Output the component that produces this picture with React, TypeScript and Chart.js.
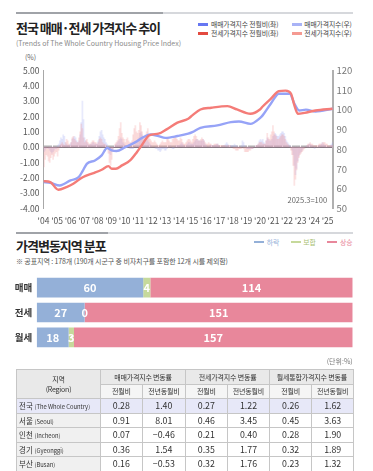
import React, { useEffect, useRef } from 'react';
import { Chart, registerables } from 'chart.js';
Chart.register(...registerables);

const FONT = '"Noto Sans CJK KR", "Noto Sans", sans-serif';

// ---------- top chart data ----------
// monthly change (%) Jan 2004 .. May 2025
const saleMoM = [
  -0.3, -0.2, -0.1, 0.0, -0.1, -0.2, -0.3, -0.4, -0.3, -0.2, -0.1, -0.1,
  0.1, 0.2, 0.4, 0.6, 0.5, 0.8, 0.7, 0.3, 0.2, 0.1, 0.1, 0.2,
  0.3, 0.5, 0.6, 0.7, 0.6, 0.4, 0.3, 0.4, 0.8, 1.6, 3.0, 1.8,
  0.6, 0.4, 0.3, 0.2, 0.1, 0.2, 0.2, 0.3, 0.3, 0.2, 0.2, 0.2,
  0.4, 0.7, 1.0, 1.1, 0.8, 0.6, 0.5, 0.3, 0.2, -0.1, -0.4, -0.5,
  -0.3, -0.1, 0.0, 0.1, 0.2, 0.3, 0.4, 0.5, 0.6, 0.5, 0.3, 0.2,
  0.1, 0.1, 0.1, 0.0, -0.1, -0.1, -0.1, -0.1, 0.0, 0.2, 0.4, 0.5,
  0.6, 0.9, 1.0, 0.8, 0.6, 0.4, 0.4, 0.5, 0.4, 0.3, 0.2, 0.1,
  0.0, 0.0, 0.0, -0.1, -0.1, -0.2, -0.2, -0.3, -0.2, -0.1, -0.1, -0.2,
  -0.2, -0.1, 0.0, 0.0, 0.1, 0.0, -0.1, -0.1, 0.0, 0.1, 0.1, 0.1,
  0.1, 0.2, 0.3, 0.2, 0.1, 0.0, 0.1, 0.2, 0.3, 0.3, 0.2, 0.2,
  0.2, 0.3, 0.4, 0.5, 0.5, 0.4, 0.4, 0.4, 0.4, 0.5, 0.4, 0.2,
  0.1, 0.0, 0.0, 0.1, 0.1, 0.1, 0.1, 0.1, 0.1, 0.2, 0.2, 0.1,
  0.0, 0.0, 0.0, 0.1, 0.1, 0.2, 0.3, 0.2, 0.1, 0.1, 0.1, 0.1,
  0.1, 0.2, 0.1, 0.1, 0.0, 0.0, 0.0, 0.1, 0.4, 0.3, 0.1, 0.0,
  -0.1, -0.1, -0.1, -0.1, -0.1, -0.1, 0.0, 0.0, 0.1, 0.1, 0.2, 0.4,
  0.5, 0.4, 0.5, 0.3, 0.2, 0.4, 0.6, 0.5, 0.4, 0.4, 0.5, 0.7,
  0.8, 0.9, 0.8, 0.7, 0.7, 0.8, 0.9, 1.0, 1.0, 0.9, 0.7, 0.4,
  0.3, 0.2, 0.1, 0.0, -0.2, -0.5, -1.2, -1.8, -1.4, -0.9, -0.6, -0.4,
  -0.3, -0.2, -0.1, 0.0, 0.0, 0.1, 0.1, 0.2, 0.2, 0.1, 0.1, 0.0,
  -0.1, 0.0, 0.0, 0.0, 0.1, 0.1, 0.2, 0.3, 0.2, 0.1, 0.1, 0.0,
  0.0, 0.0, 0.1, 0.2, 0.3,
];
const jeonseMoM = [
  -1.3, -0.8, -0.5, -0.6, -0.9, -1.0, -0.7, -0.5, -0.8, -0.6, -0.4, -0.3,
  -0.6, -0.2, 0.1, 0.2, 0.3, 0.2, 0.1, 0.3, 0.5, 0.4, 0.2, 0.1,
  0.3, 0.6, 0.7, 0.5, 0.4, 0.3, 0.3, 0.6, 1.0, 1.5, 1.2, 0.6,
  0.3, 0.4, 0.5, 0.3, 0.2, 0.2, 0.3, 0.4, 0.4, 0.3, 0.3, 0.2,
  0.3, 0.5, 0.6, 0.5, 0.3, 0.2, 0.2, 0.1, 0.0, -0.4, -1.0, -1.2,
  -0.8, -0.3, 0.0, 0.2, 0.3, 0.4, 0.7, 1.2, 1.6, 0.9, 0.6, 0.5,
  0.3, 0.5, 0.6, 0.4, 0.3, 0.3, 0.4, 0.8, 1.2, 1.4, 1.0, 0.9,
  1.1, 1.6, 1.4, 1.0, 0.7, 0.6, 0.8, 1.0, 1.2, 0.8, 0.5, 0.4,
  0.3, 0.3, 0.4, 0.3, 0.2, 0.1, 0.1, 0.2, 0.3, 0.4, 0.3, 0.3,
  0.3, 0.5, 0.6, 0.4, 0.3, 0.3, 0.5, 0.6, 0.7, 0.6, 0.5, 0.4,
  0.4, 0.6, 0.5, 0.3, 0.2, 0.2, 0.3, 0.4, 0.5, 0.5, 0.4, 0.3,
  0.5, 0.7, 0.8, 0.7, 0.5, 0.4, 0.4, 0.5, 0.6, 0.5, 0.4, 0.3,
  0.2, 0.2, 0.3, 0.2, 0.2, 0.1, 0.1, 0.2, 0.2, 0.2, 0.2, 0.1,
  0.1, 0.1, 0.1, 0.1, 0.1, 0.1, 0.0, 0.1, 0.1, 0.1, 0.0, 0.0,
  -0.1, -0.1, -0.2, -0.2, -0.2, -0.1, -0.1, -0.1, 0.0, -0.1, -0.3, -0.3,
  -0.3, -0.3, -0.2, -0.2, -0.1, -0.1, 0.0, 0.0, 0.1, 0.1, 0.2, 0.3,
  0.3, 0.3, 0.2, 0.2, 0.2, 0.4, 0.9, 0.6, 0.5, 0.8, 1.0, 1.4,
  1.0, 0.8, 0.7, 0.5, 0.5, 0.6, 0.7, 0.8, 0.8, 0.7, 0.5, 0.3,
  0.2, 0.1, 0.0, -0.2, -0.5, -1.2, -2.5, -2.1, -1.5, -1.0, -0.7, -0.5,
  -0.4, -0.3, -0.2, -0.1, 0.0, 0.1, 0.2, 0.2, 0.3, 0.2, 0.2, 0.1,
  0.1, 0.1, 0.1, 0.1, 0.2, 0.2, 0.2, 0.3, 0.3, 0.3, 0.2, 0.2,
  0.1, 0.1, 0.1, 0.1, 0.1,
];
// index (2025.3 = 100), [year, value]
const saleIndex: [number, number][] = [
  [2004.0, 63.3], [2004.5, 63.0], [2005.2, 61.6], [2006.0, 64.2], [2006.6, 65.8],
  [2006.9, 69.0], [2007.2, 72.6], [2007.8, 74.3], [2008.3, 76.9], [2008.7, 80.6],
  [2009.05, 79.4], [2009.4, 79.1], [2010.05, 81.1], [2010.8, 83.6], [2011.4, 86.2],
  [2011.9, 87.5], [2012.5, 86.7], [2013.0, 85.8], [2013.9, 86.7], [2014.7, 87.9],
  [2015.0, 88.7], [2015.6, 90.9], [2016.85, 92.1], [2017.85, 93.8], [2018.45, 94.1],
  [2019.3, 92.9], [2020.0, 95.8], [2020.2, 97.2], [2020.8, 103.1], [2021.4, 108.2],
  [2022.2, 108.2], [2022.55, 103.1], [2022.9, 99.7], [2023.4, 100.1], [2024.1, 99.2],
  [2025.37, 100.6],
];
const jeonseIndex: [number, number][] = [
  [2004.0, 63.8], [2004.5, 63.3], [2005.1, 59.4], [2005.7, 60.8], [2006.2, 62.5],
  [2006.9, 65.8], [2007.7, 67.9], [2008.3, 69.6], [2008.8, 71.4], [2009.05, 70.1],
  [2009.35, 70.1], [2009.8, 71.8], [2010.4, 74.3], [2010.9, 78.5], [2011.3, 82.4],
  [2011.8, 87.0], [2012.5, 87.9], [2013.1, 90.1], [2013.9, 93.5], [2014.7, 95.5],
  [2015.0, 97.2], [2015.6, 100.2], [2016.4, 101.1], [2017.6, 101.9], [2018.3, 100.2],
  [2019.3, 98.0], [2020.0, 100.2], [2020.2, 101.7], [2020.8, 105.6], [2021.4, 109.5],
  [2021.9, 109.8], [2022.3, 108.2], [2022.55, 102.2], [2022.8, 98.0], [2023.3, 98.5],
  [2024.1, 99.7], [2025.37, 100.6],
];
const startYear = 2004;
const endYear = 2025.4;

// ---------- distribution chart data ----------
const distCategories = ['매매', '전세', '월세'];
const distFall = [60, 27, 18];
const distFlat = [4, 0, 3];
const distRise = [114, 151, 157];

// ---------- table data ----------
const regionsKo = ['전국', '서울', '인천', '경기', '부산'];
const regionsEn = ['The Whole Country', 'Seoul', 'Incheon', 'Gyeonggi', 'Busan'];
const saleMoMTbl = [0.28, 0.91, 0.07, 0.36, 0.16];
const saleYoYTbl = [1.4, 8.01, -0.46, 1.54, -0.53];
const jeonseMoMTbl = [0.27, 0.46, 0.21, 0.35, 0.32];
const jeonseYoYTbl = [1.22, 3.45, 0.4, 1.77, 1.76];
const rentMoMTbl = [0.26, 0.45, 0.28, 0.32, 0.23];
const rentYoYTbl = [1.62, 3.63, 1.9, 1.89, 1.32];

const C_SALE_BAR = 'rgba(165,172,242,0.26)';
const C_JEON_BAR = 'rgba(245,150,150,0.26)';
const C_SALE_LINE = '#96a3f7';
const C_JEON_LINE = '#f47c78';
const C_FALL = '#94b0d8';
const C_FLAT = '#c6d99b';
const C_RISE = '#e8879b';

const fmt = (v: number) => (v < 0 ? '−' + Math.abs(v).toFixed(2) : v.toFixed(2));

function T(props: any) {
  const { x, y, s, c = '#333', w = 400, ls = 0, right, children } = props;
  const style: any = {
    position: 'absolute',
    top: y - s * 0.6,
    fontSize: s,
    lineHeight: `${s * 1.2}px`,
    color: c,
    fontWeight: w,
    letterSpacing: ls,
    whiteSpace: 'nowrap',
    fontFamily: FONT,
  };
  if (right !== undefined) style.right = 373 - right;
  else style.left = x;
  return <div style={style}>{children}</div>;
}

function Swatch({ x, y, w = 10, h = 2.6, c }: any) {
  return <div style={{ position: 'absolute', left: x, top: y - h / 2, width: w, height: h, background: c }} />;
}

function Rule({ y, dark }: any) {
  return (
    <>
      <div style={{ position: 'absolute', left: 16, top: y - 1, width: 337, height: 2, background: '#d6d8dc' }} />
      <div style={{ position: 'absolute', left: 16, top: y - 1, width: dark - 16, height: 2, background: '#a0a3a8' }} />
    </>
  );
}

function TrendChart() {
  const ref = useRef<HTMLCanvasElement>(null);
  useEffect(() => {
    const bx = (i: number) => startYear + (i + 0.5) / 12;
    const chart = new Chart(ref.current!, {
      type: 'bar',
      data: {
        datasets: [
          {
            type: 'line',
            label: '전세가격지수(우)',
            data: jeonseIndex.map(([x, y]) => ({ x, y })),
            xAxisID: 'x',
            yAxisID: 'yR',
            borderColor: C_JEON_LINE,
            borderWidth: 2.4,
            pointRadius: 0,
            cubicInterpolationMode: 'monotone',
            order: 0,
          } as any,
          {
            type: 'line',
            label: '매매가격지수(우)',
            data: saleIndex.map(([x, y]) => ({ x, y })),
            xAxisID: 'x',
            yAxisID: 'yR',
            borderColor: C_SALE_LINE,
            borderWidth: 2.4,
            pointRadius: 0,
            cubicInterpolationMode: 'monotone',
            order: 1,
          } as any,
          {
            type: 'bar',
            label: '전세가격지수 전월비(좌)',
            data: jeonseMoM.map((v, i) => ({ x: bx(i), y: v })),
            xAxisID: 'x',
            yAxisID: 'y',
            backgroundColor: C_JEON_BAR,
            barThickness: 1.1,
            grouped: false,
            order: 2,
          } as any,
          {
            type: 'bar',
            label: '매매가격지수 전월비(좌)',
            data: saleMoM.map((v, i) => ({ x: bx(i), y: v })),
            xAxisID: 'x',
            yAxisID: 'y',
            backgroundColor: C_SALE_BAR,
            barThickness: 1.1,
            grouped: false,
            order: 3,
          } as any,
        ],
      },
      options: {
        responsive: false,
        animation: false,
        maintainAspectRatio: false,
        layout: { padding: { top: 15.5, left: 0, right: 0, bottom: 0 } },
        plugins: { legend: { display: false }, tooltip: { enabled: false } },
        scales: {
          x: {
            type: 'linear',
            min: startYear,
            max: endYear,
            position: 'bottom',
            offset: false,
            grid: { display: false, drawTicks: false },
            border: { display: false },
            ticks: {
              stepSize: 1,
              includeBounds: false,
              autoSkip: false,
              maxRotation: 0,
              color: '#555',
              font: { size: 8.5, family: FONT },
              padding: 7,
              callback: (v: any) => (Number.isInteger(v) ? "'" + String(v).slice(2) : ''),
            },
            afterFit: (s: any) => { s.height = 21.7; },
          },
          x0: {
            type: 'linear',
            min: startYear,
            max: endYear,
            position: { y: 0 } as any,
            offset: false,
            ticks: { display: false, stepSize: 1 / 12, includeBounds: false, autoSkip: false },
            grid: { display: true, drawOnChartArea: false, drawTicks: true, tickLength: -2.5, color: '#7a7a7a', lineWidth: 0.6 },
            border: { display: true, color: '#666', width: 1 },
          },
          y: {
            type: 'linear',
            position: 'left',
            min: -4,
            max: 5,
            ticks: {
              stepSize: 1,
              color: '#555',
              font: { size: 8.5, family: FONT },
              padding: 4,
              callback: (v: any) => Number(v).toFixed(2),
            },
            grid: { display: false, drawTicks: false },
            border: { display: true, color: '#a8a8a8', width: 1 },
            afterFit: (s: any) => { s.width = 43.5; },
          },
          yR: {
            type: 'linear',
            position: 'right',
            min: 50,
            max: 120,
            ticks: { stepSize: 10, color: '#777', font: { size: 9.5, family: FONT }, padding: 3.5 },
            grid: { display: false, drawTicks: false },
            border: { display: true, color: '#b0b0b0', width: 2 },
            afterFit: (s: any) => { s.width = 40; },
          },
        },
      } as any,
    });
    return () => chart.destroy();
  }, []);
  return <canvas ref={ref} width={373} height={175} style={{ position: 'absolute', left: 0, top: 55, width: 373, height: 175 }} />;
}

const barLabelPlugin = {
  id: 'barLabels',
  afterDatasetsDraw(chart: any) {
    const ctx = chart.ctx;
    chart.data.datasets.forEach((ds: any, di: number) => {
      const meta = chart.getDatasetMeta(di);
      meta.data.forEach((el: any, i: number) => {
        const { x, base, y } = el.getProps(['x', 'base', 'y'], true);
        ctx.save();
        ctx.fillStyle = '#fff';
        ctx.font = `bold 11px ${FONT}`;
        ctx.textAlign = 'center';
        ctx.textBaseline = 'middle';
        ctx.fillText(String(ds.data[i]), (x + base) / 2, y + 0.5);
        ctx.restore();
      });
    });
  },
};

function DistChart() {
  const ref = useRef<HTMLCanvasElement>(null);
  useEffect(() => {
    const chart = new Chart(ref.current!, {
      type: 'bar',
      data: {
        labels: distCategories,
        datasets: [
          { label: '하락', data: distFall, backgroundColor: C_FALL },
          { label: '보합', data: distFlat, backgroundColor: C_FLAT },
          { label: '상승', data: distRise, backgroundColor: C_RISE },
        ],
      },
      options: {
        indexAxis: 'y',
        responsive: false,
        animation: false,
        maintainAspectRatio: false,
        layout: { padding: { top: 5.6, bottom: 7.2, left: 0, right: 20.3 } },
        datasets: { bar: { barPercentage: 0.79, categoryPercentage: 1 } },
        plugins: { legend: { display: false }, tooltip: { enabled: false } },
        scales: {
          x: { stacked: true, min: 0, max: 178, display: false },
          y: {
            stacked: true,
            grid: { display: false, drawTicks: false },
            border: { display: false },
            ticks: { color: '#333', font: { size: 9.5, weight: 'bold', family: FONT }, padding: 4.4 },
            afterFit: (s: any) => { s.width = 36.7; },
          },
        },
      } as any,
      plugins: [barLabelPlugin],
    });
    return () => chart.destroy();
  }, []);
  return <canvas ref={ref} width={373} height={95} style={{ position: 'absolute', left: 0, top: 265, width: 373, height: 95 }} />;
}

function DataTable() {
  const bd = '1px solid #c6c6c6';
  const th: any = { border: bd, background: '#e9e9e9', fontSize: 7, fontWeight: 400, color: '#333', padding: 0, textAlign: 'center', verticalAlign: 'middle', whiteSpace: 'nowrap', letterSpacing: -0.2 };
  const th2: any = { ...th, background: '#f5f5f5' };
  const td: any = { border: bd, fontSize: 8.8, color: '#333', padding: 0, textAlign: 'center', verticalAlign: 'middle' };
  const cols = [saleMoMTbl, saleYoYTbl, jeonseMoMTbl, jeonseYoYTbl, rentMoMTbl, rentYoYTbl];
  return (
    <table
      style={{
        position: 'absolute', left: 16, top: 369, width: 337.5, borderCollapse: 'collapse', tableLayout: 'fixed',
        fontFamily: FONT, border: '1px solid #9a9a9a',
      }}
    >
      <colgroup>
        <col style={{ width: 84 }} />
        <col style={{ width: 41.7 }} />
        <col style={{ width: 43.3 }} />
        <col style={{ width: 41.7 }} />
        <col style={{ width: 42.6 }} />
        <col style={{ width: 41.7 }} />
        <col style={{ width: 42.5 }} />
      </colgroup>
      <tbody>
        <tr style={{ height: 14.7 }}>
          <th rowSpan={2} style={{ ...th, lineHeight: '10px' }}>지역<br />(Region)</th>
          <th colSpan={2} style={th}>매매가격지수 변동률</th>
          <th colSpan={2} style={th}>전세가격지수 변동률</th>
          <th colSpan={2} style={th}>월세통합가격지수 변동률</th>
        </tr>
        <tr style={{ height: 14.4 }}>
          <th style={th2}>전월비</th>
          <th style={th2}>전년동월비</th>
          <th style={th2}>전월비</th>
          <th style={th2}>전년동월비</th>
          <th style={th2}>전월비</th>
          <th style={th2}>전년동월비</th>
        </tr>
        {regionsKo.map((r, i) => (
          <tr key={r} style={{ height: 14.5, background: i === 0 ? '#e7e8f8' : '#fff' }}>
            <td style={{ ...td, textAlign: 'left', paddingLeft: 2, fontSize: 7.5, whiteSpace: 'nowrap', background: i === 0 ? '#e7e8f8' : '#f0f0f0' }}>
              {r} <span style={{ fontSize: 5.8 }}>({regionsEn[i]})</span>
            </td>
            {cols.map((c, j) => (
              <td key={j} style={td}>{fmt(c[i])}</td>
            ))}
          </tr>
        ))}
      </tbody>
    </table>
  );
}

export default function App() {
  return (
    <div style={{ position: 'absolute', left: 0, top: 0, width: 373, height: 471, overflow: 'hidden', background: '#fff', fontFamily: FONT }}>
      <Rule y={13.3} dark={163} />
      <T x={16} y={27.5} s={13} w={700} c="#222" ls={-1}>전국 매매·전세 가격지수 추이</T>
      <T x={16} y={42.7} s={7} c="#8a8a8a">(Trends of The Whole Country Housing Price Index)</T>
      <Swatch x={198.3} y={24.3} c="#6677f2" />
      <T x={211} y={24.3} s={6.8} c="#444" ls={-0.1}>매매가격지수 전월비(좌)</T>
      <Swatch x={198.3} y={33.3} c="#e34a40" />
      <T x={211} y={33.3} s={6.8} c="#444" ls={-0.1}>전세가격지수 전월비(좌)</T>
      <Swatch x={292.3} y={24.3} c="#a9b3f6" />
      <T x={304.3} y={24.3} s={6.8} c="#444" ls={-0.1}>매매가격지수(우)</T>
      <Swatch x={292.3} y={33.3} c="#f59a92" />
      <T x={304.3} y={33.3} s={6.8} c="#444" ls={-0.1}>전세가격지수(우)</T>
      <T x={25} y={57} s={7} c="#666">(%)</T>
      <TrendChart />
      <T x={287.5} y={199} s={7.5} c="#666">2025.3=100</T>

      <Rule y={232.5} dark={108} />
      <T x={16} y={245.5} s={13} w={700} c="#222" ls={-1}>가격변동지역 분포</T>
      <Swatch x={254.3} y={242} w={10} h={2.6} c={C_FALL} />
      <T x={266.7} y={242} s={6.8} c={C_FALL}>하락</T>
      <Swatch x={291} y={242} w={10} h={2.6} c={C_FLAT} />
      <T x={303.3} y={242} s={6.8} c="#a9bf72">보합</T>
      <Swatch x={326.7} y={242} w={10} h={2.6} c={C_RISE} />
      <T x={340} y={242} s={6.8} c={C_RISE}>상승</T>
      <T x={16} y={260.7} s={7} c="#555" ls={-0.1}>※ 공표지역 : 178개 (190개 시군구 중 비자치구를 포함한 12개 시를 제외함)</T>
      <DistChart />
      <T right={352.7} y={360.7} s={7} c="#777">(단위:%)</T>
      <DataTable />
    </div>
  );
}
